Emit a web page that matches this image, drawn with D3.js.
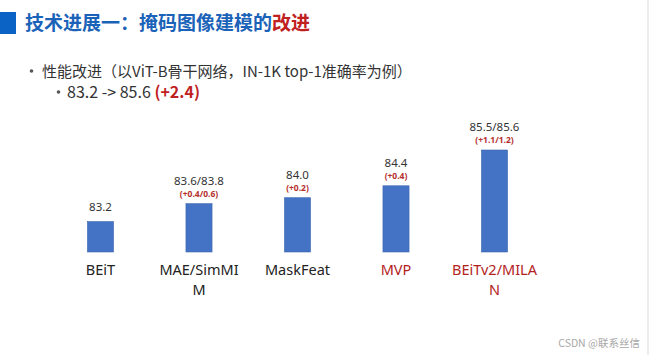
<!DOCTYPE html>
<html><head><meta charset="utf-8">
<script src="https://cdn.jsdelivr.net/npm/d3@7"></script>
<style>
html,body{margin:0;padding:0;background:#fff;}
svg{display:block;}
</style></head>
<body>
<svg id="c" width="650" height="355"></svg>
<script>
// Data
const categories = ["BEiT", "MAE/SimMIM", "MaskFeat", "MVP", "BEiTv2/MILAN"];
const categoryLines = [["BEiT"], ["MAE/SimMI", "M"], ["MaskFeat"], ["MVP"], ["BEiTv2/MILA", "N"]];
const barValues = [83.2, 83.8, 84.0, 84.4, 85.6];
const valueLabels = ["83.2", "83.6/83.8", "84.0", "84.4", "85.5/85.6"];
const gainLabels = ["", "(+0.4/0.6)", "(+0.2)", "(+0.4)", "(+1.1/1.2)"];
const highlighted = [false, false, false, true, true];

const svg = d3.select("#c");
const cjk = "'Noto Sans CJK SC', 'Noto Sans', sans-serif";
const lat = "'Noto Sans', 'Open Sans', sans-serif";

// right border
svg.append("line").attr("x1", 648).attr("x2", 648).attr("y1", 0).attr("y2", 355)
  .attr("stroke", "#e6e6e6").attr("stroke-width", 1.5);

// header
svg.append("rect").attr("x", 0).attr("y", 12).attr("width", 16).attr("height", 22).attr("fill", "#0b63c6");
const title = svg.append("text").attr("x", 25).attr("y", 30)
  .attr("font-family", cjk).attr("font-size", 19).attr("font-weight", "bold");
title.append("tspan").attr("fill", "#1b63b8").text("技术进展一：掩码图像建模的");
title.append("tspan").attr("fill", "#c0211f").text("改进");

// bullets
svg.append("circle").attr("cx", 31.5).attr("cy", 71).attr("r", 1.8).attr("fill", "#555");
svg.append("text").attr("x", 42).attr("y", 77).attr("font-family", cjk).attr("font-size", 15)
  .attr("fill", "#333").text("性能改进（以ViT-B骨干网络，IN-1K top-1准确率为例）");
svg.append("circle").attr("cx", 58.5).attr("cy", 92).attr("r", 1.8).attr("fill", "#555");
const b2 = svg.append("text").attr("x", 67).attr("y", 98).attr("font-family", cjk).attr("font-size", 16)
  .attr("fill", "#333");
b2.append("tspan").text("83.2 -> 85.6 ");
b2.append("tspan").attr("fill", "#c0211f").attr("font-weight", "bold").text("(+2.4)");

// scales
const x = d3.scaleBand().domain(categories).range([51, 544]).paddingInner(0.735).paddingOuter(0.37);
const baseY = 252;
const y = d3.scaleLinear().domain([82.18, 85.6]).range([baseY, 150]);

const g = svg.append("g");
g.selectAll("rect.bar").data(categories).join("rect").attr("class", "bar")
  .attr("x", d => x(d)).attr("width", x.bandwidth())
  .attr("y", (d, i) => y(barValues[i]))
  .attr("height", (d, i) => baseY - y(barValues[i]))
  .attr("fill", "#4472c4").attr("stroke", "#3d66b0").attr("stroke-width", 0.6);

g.selectAll("text.val").data(categories).join("text").attr("class", "val")
  .attr("x", d => x(d) + x.bandwidth() / 2)
  .attr("y", (d, i) => y(barValues[i]) - (gainLabels[i] ? 19 : 11))
  .attr("text-anchor", "middle").attr("font-family", lat).attr("font-size", 11.5)
  .attr("fill", "#333").text((d, i) => valueLabels[i]);

g.selectAll("text.gain").data(categories).join("text").attr("class", "gain")
  .attr("x", d => x(d) + x.bandwidth() / 2)
  .attr("y", (d, i) => y(barValues[i]) - 7)
  .attr("text-anchor", "middle").attr("font-family", lat).attr("font-size", 8.5)
  .attr("font-weight", "bold").attr("fill", "#b5302c").text((d, i) => gainLabels[i]);

const cat = g.selectAll("text.cat").data(categories).join("text").attr("class", "cat")
  .attr("x", d => x(d) + x.bandwidth() / 2)
  .attr("y", 275)
  .attr("text-anchor", "middle").attr("font-family", lat).attr("font-size", 14.5)
  .attr("fill", (d, i) => highlighted[i] ? "#b3221d" : "#222");
cat.each(function(d, i) {
  const t = d3.select(this);
  categoryLines[i].forEach((ln, j) => {
    t.append("tspan").attr("x", x(d) + x.bandwidth() / 2).attr("dy", j === 0 ? 0 : 20).text(ln);
  });
});

// watermark
svg.append("text").attr("x", 640).attr("y", 347).attr("text-anchor", "end")
  .attr("font-family", cjk).attr("font-size", 10.5).attr("fill", "#a8a8a8").text("CSDN @联系丝信");
</script>
</body></html>
